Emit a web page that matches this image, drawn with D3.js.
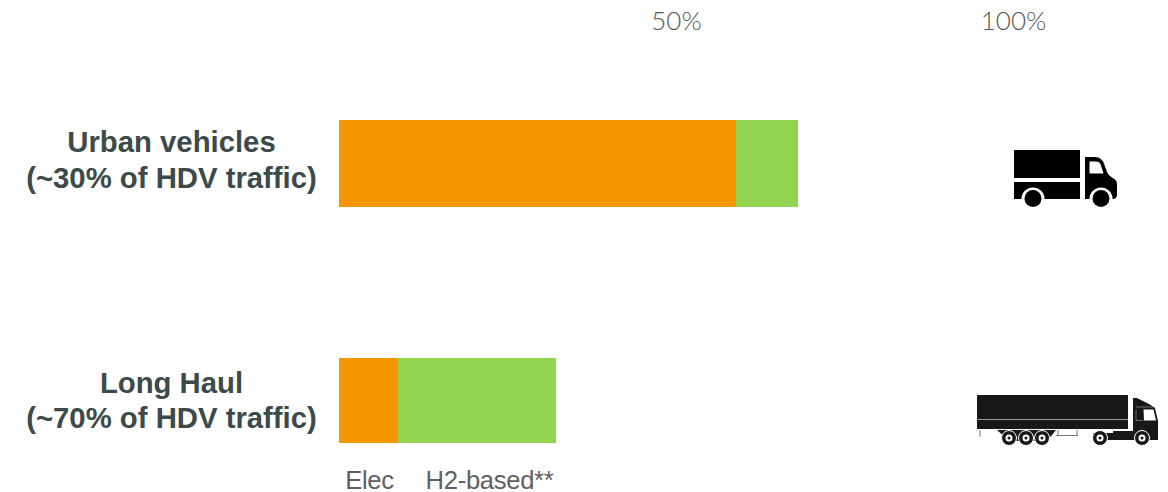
<!DOCTYPE html>
<html><head><meta charset="utf-8">
<script src="https://cdn.jsdelivr.net/npm/d3@7/dist/d3.min.js"></script>
<style>html,body{margin:0;padding:0;background:#fff}svg{display:block}</style>
</head><body><svg id="c" width="1168" height="492"></svg>
<script>
const categories = ["Urban vehicles", "Long Haul"];
const subLabels = ["(~30% of HDV traffic)", "(~70% of HDV traffic)"];
const elecValues = [58.9, 8.75];
const h2Values = [9.2, 23.45];
const tickValues = [50, 100];
const seriesColors = ["#F59700", "#92D350"];
const seriesNames = ["Elec", "H2-based**"];

const svg = d3.select("#c");
const x = d3.scaleLinear().domain([0, 100]).range([339, 1013]);
const barTop = [120, 358], barH = [87, 85];

// axis ticks
svg.selectAll("text.tick").data(tickValues).join("text")
  .attr("class", "tick").attr("x", d => x(d) + 0.5).attr("y", 30)
  .attr("text-anchor", "middle")
  .attr("font-family", "Lato").attr("font-weight", 300).attr("font-size", 26)
  .attr("fill", "#555555").text(d => d + "%");

// stacked bars
categories.forEach((c, i) => {
  svg.append("rect").attr("x", x(0)).attr("y", barTop[i]).attr("shape-rendering", "crispEdges")
    .attr("width", x(elecValues[i]) - x(0)).attr("height", barH[i]).attr("fill", seriesColors[0]);
  svg.append("rect").attr("x", x(elecValues[i])).attr("y", barTop[i]).attr("shape-rendering", "crispEdges")
    .attr("width", x(elecValues[i] + h2Values[i]) - x(elecValues[i])).attr("height", barH[i]).attr("fill", seriesColors[1]);
});

// category labels
const labelY = [[152, 188], [393, 428]];
categories.forEach((c, i) => {
  const common = s => s.attr("text-anchor", "middle").attr("font-family", "Liberation Sans")
    .attr("font-weight", 700).attr("font-size", 29.3).attr("fill", "#3c4a4a");
  svg.append("text").attr("x", 171.5).attr("y", labelY[i][0]).call(common).text(c);
  svg.append("text").attr("x", 171.5).attr("y", labelY[i][1]).call(common).text(subLabels[i]);
});

// legend labels
[[369.5, 0], [489.5, 1]].forEach(([lx, k]) => {
  svg.append("text").attr("x", lx).attr("y", 488.5).attr("text-anchor", "middle")
    .attr("font-family", "Liberation Sans").attr("font-size", 25.6).attr("letter-spacing", -0.3)
    .attr("fill", "#5f5f5f").text(seriesNames[k]);
});

// small truck icon
const t1 = svg.append("g").attr("fill", "#000");
t1.append("rect").attr("x", 1014).attr("y", 150).attr("width", 66).attr("height", 28);
t1.append("path").attr("d", "M1014 182H1080V199H1044.5A11.5 11.5 0 0 0 1021.5 199H1014Z");
t1.append("path").attr("fill-rule", "evenodd").attr("d",
  "M1085 157H1095Q1102 157 1104.5 165L1107 172Q1108 175 1112 177.5L1115 179.5Q1117 181 1117 184V194Q1117 199 1113 199H1112.5A11.5 11.5 0 0 0 1089.5 199H1085Z M1089.5 161.5V173.5H1103.5L1100.5 164Q1099.5 161.5 1096.5 161.5Z");
t1.append("circle").attr("cx", 1033).attr("cy", 198.5).attr("r", 8.5);
t1.append("circle").attr("cx", 1101).attr("cy", 198.5).attr("r", 8.5);

// long-haul truck icon
const t2 = svg.append("g");
t2.append("rect").attr("x", 977).attr("y", 395).attr("width", 151).attr("height", 34).attr("fill", "#1a1718");
t2.append("rect").attr("x", 977).attr("y", 419).attr("width", 151).attr("height", 1).attr("fill", "#999");
t2.append("path").attr("fill", "#1a1718").attr("d", "M997 430H1056L1047 441H1009Z");
t2.append("path").attr("fill", "none").attr("stroke", "#777").attr("d", "M980 430V436H979 M1056 435.5H1078M1058 430V435M1077 430V435");
t2.append("path").attr("fill", "#1a1718").attr("d",
  "M1133 398H1137L1150 404.5L1155 408L1158 421V440H1113V431H1133Z");
t2.append("path").attr("fill", "#1a1718").attr("d", "M1093 433H1113V440H1093Z");
t2.append("path").attr("fill", "#fff").attr("d", "M1143.500 409.500H1153.500L1156 420.500H1144Z");
t2.append("path").attr("fill", "none").attr("stroke", "#888").attr("stroke-width", 0.8).attr("d", "M1136 407H1153M1136 410V420.500H1143");
[1009, 1026, 1042, 1100, 1142].forEach(cx => {
  t2.append("circle").attr("cx", cx).attr("cy", 438).attr("r", 7.5).attr("fill", "#1a1718").attr("stroke", "#fff").attr("stroke-width", 1);
  t2.append("circle").attr("cx", cx).attr("cy", 438).attr("r", 3.5).attr("fill", "#fff");
  t2.append("circle").attr("cx", cx).attr("cy", 438).attr("r", 1.5).attr("fill", "#1a1718");
});
</script></body></html>
